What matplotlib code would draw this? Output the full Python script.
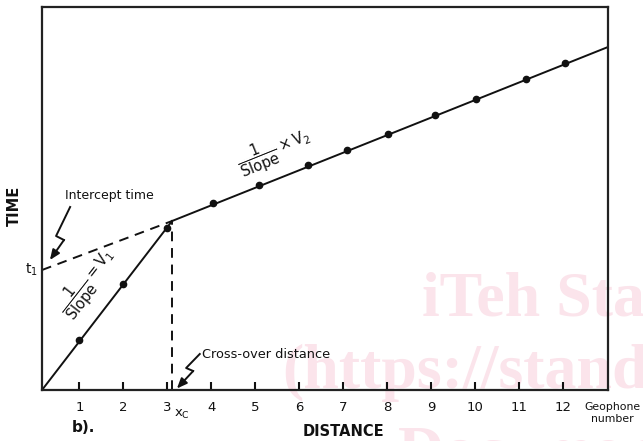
import matplotlib
matplotlib.use("Agg")
import matplotlib.pyplot as plt

plt.rcParams['font.family'] = ['DejaVu Sans']
plt.rcParams['mathtext.fontset'] = 'dejavusans'

# geophone positions (geophone number units) and travel times (arbitrary units)
geophones = [1, 2, 3, 4, 5, 6, 7, 8, 9, 10, 11, 12]
x_direct = [1, 2, 3]
t_direct = [5.0, 10.6, 16.2]
x_refr = [4.04, 5.09, 6.21, 7.10, 8.03, 9.09, 10.03, 11.16, 12.05]
t_refr = [18.7, 20.5, 22.5, 24.0, 25.6, 27.5, 29.1, 31.1, 32.7]
x_start, x_end = 0.15, 13.03
x_cross, t_cross = 3.11, 16.9
t_intercept = 12.0
t_end = 34.3
t_max = 38.3

ink = '#111111'

fig = plt.figure(figsize=(6.43, 4.41), dpi=100)

# faint watermark behind the plot
wm = '#fbe4eb'
fig.text(422/643, 1-315/441, 'iTeh Standards', fontsize=46, color=wm,
         family='Liberation Serif', weight='bold', va='baseline', zorder=-5)
fig.text(282/643, 1-388/441, '(https://standards.iteh.ai)', fontsize=46, color=wm,
         family='Liberation Serif', weight='bold', va='baseline', zorder=-5)
fig.text(398/643, 1-470/441, 'Document Preview', fontsize=46, color=wm,
         family='Liberation Serif', weight='bold', va='baseline', zorder=-5)

ax = fig.add_axes([42/643, 1-390/441, 566/643, 383/441])
ax.set_facecolor('none')
ax.set_xlim(x_start, x_end)
ax.set_ylim(0, t_max)

# direct wave
ax.plot([x_start, x_cross], [0, t_cross], color=ink, lw=1.4)
ax.plot(x_direct, t_direct, 'o', color=ink, ms=4.5)
# refracted wave
ax.plot([x_cross, x_end], [t_cross, t_end], color=ink, lw=1.4)
ax.plot(x_refr, t_refr, 'o', color=ink, ms=4.5)
# extrapolation to intercept and cross-over
ax.plot([x_start, x_cross], [t_intercept, t_cross], color=ink, lw=1.4,
        dashes=(5, 3.5))
ax.plot([x_cross, x_cross], [0, t_cross], color=ink, lw=1.4, dashes=(5, 3.5))

for s in ax.spines.values():
    s.set_linewidth(1.6)
    s.set_color('#222222')

ax.set_xticks(geophones)
ax.set_xticklabels([str(g) for g in geophones])
ax.set_yticks([])
ax.tick_params(axis='x', direction='in', length=6, width=1.5, pad=8,
               labelsize=9.5, colors=ink)

ax.text(3.16, -2.4, r'$\mathregular{x_C}$', fontsize=9.5, ha='left',
        va='center', color=ink, clip_on=False)
ax.text(13.12, -2.3, 'Geophone\nnumber', fontsize=7.8, ha='center',
        va='center', color=ink, clip_on=False, linespacing=1.25)
ax.annotate(r'$\mathregular{t_1}$', (x_start, t_intercept), xytext=(-3, 0),
            textcoords='offset points', ha='right', va='center',
            fontsize=10, color=ink, annotation_clip=False)

# slope labels
ax.text(1.2, 10.7, r'$\dfrac{1}{\mathrm{Slope}} = \mathrm{V}_1$', fontsize=10.5,
        rotation=52, rotation_mode='anchor', ha='center', va='center', color=ink)
ax.text(5.45, 23.8, r'$\dfrac{1}{\mathrm{Slope}} \times \mathrm{V}_2$', fontsize=10.5,
        rotation=22, rotation_mode='anchor', ha='center', va='center', color=ink)

# zig-zag pointers
ax.text(0.68, 19.5, 'Intercept time', fontsize=9, ha='left', va='center', color=ink)
ax.plot([0.79, 0.47, 0.65], [18.3, 15.4, 15.0], color=ink, lw=1.4)
ax.annotate('', xy=(0.33, 13.0), xytext=(0.65, 15.0),
            arrowprops=dict(arrowstyle='-|>,head_length=0.6,head_width=0.25',
                            color=ink, lw=1.4, shrinkA=0, shrinkB=0))

ax.text(3.79, 3.6, 'Cross-over distance', fontsize=9.3, ha='left', va='center',
        color=ink)
ax.plot([3.74, 3.43, 3.59], [3.6, 2.2, 1.9], color=ink, lw=1.4)
ax.annotate('', xy=(3.22, 0.15), xytext=(3.59, 1.9),
            arrowprops=dict(arrowstyle='-|>,head_length=0.6,head_width=0.25',
                            color=ink, lw=1.4, shrinkA=0, shrinkB=0))

fig.text(343/643, 1-431/441, 'DISTANCE', fontsize=10.5, weight='bold',
         ha='center', va='center', color=ink)
fig.text(14/643, 1-206/441, 'TIME', fontsize=10.5, weight='bold',
         rotation=90, ha='center', va='center', color=ink)
fig.text(72/643, 1-427/441, 'b).', fontsize=11, weight='bold',
         ha='left', va='center', color=ink)

fig.savefig('out.png', dpi=100)
